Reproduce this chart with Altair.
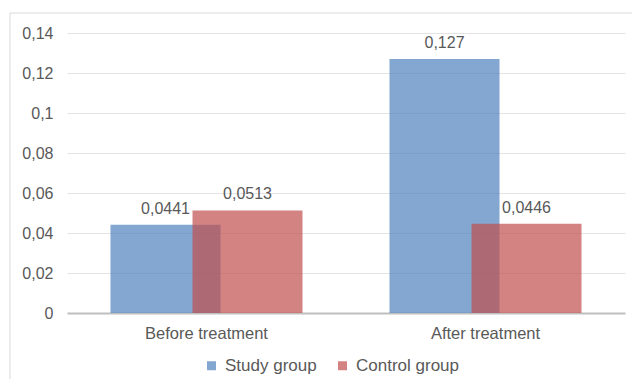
import altair as alt
import pandas as pd

categories = ["Before treatment", "After treatment"]
groups = ["Study group", "Control group"]
study = [0.0441, 0.127]
control = [0.0513, 0.0446]
y_ticks = [0, 0.02, 0.04, 0.06, 0.08, 0.1, 0.12, 0.14]
colors = ["#4F81BD", "#C0504D"]

rows = []
for c, s, k in zip(categories, study, control):
    rows.append({"cat": c, "group": groups[0], "value": s})
    rows.append({"cat": c, "group": groups[1], "value": k})
df = pd.DataFrame(rows)

FONT = "Liberation Sans"
TXT = "#595959"
BAR_W = 110
OFF = 41

x = alt.X(
    "cat:N", sort=categories,
    scale=alt.Scale(paddingInner=0, paddingOuter=0),
    axis=alt.Axis(title=None, labelAngle=0, ticks=False, domainColor="#bfbfbf",
                  domainWidth=2, labelFontSize=16.5, labelColor=TXT, labelPadding=12,
                  grid=False, labelFont=FONT),
)
y = alt.Y(
    "value:Q",
    scale=alt.Scale(domain=[0, 0.14], nice=False),
    axis=alt.Axis(title=None, values=y_ticks,
                  labelExpr="replace(toString(datum.value), '.', ',')",
                  domain=False, ticks=False, gridColor="#e4e4e4", gridWidth=1,
                  labelFontSize=16, labelColor=TXT, labelPadding=14, labelFont=FONT),
)
color = alt.Color(
    "group:N",
    scale=alt.Scale(domain=groups, range=colors),
    legend=alt.Legend(title=None, orient="none", direction="horizontal",
                      legendX=136, legendY=324, symbolType="square", symbolSize=81,
                      symbolOpacity=0.7, symbolStrokeWidth=0, labelFontSize=17,
                      labelColor=TXT, labelFont=FONT, columnPadding=17, labelOffset=5),
)

base = alt.Chart(df).transform_calculate(
    label="replace(toString(datum.value), '.', ',')"
)

study_bar = base.transform_filter(alt.datum.group == groups[0]).mark_bar(
    width=BAR_W, xOffset=-OFF, opacity=0.7
).encode(x=x, y=y, color=color)
control_bar = base.transform_filter(alt.datum.group == groups[1]).mark_bar(
    width=BAR_W, xOffset=OFF, opacity=0.7
).encode(x=x, y=y, color=color)

study_txt = base.transform_filter(alt.datum.group == groups[0]).mark_text(
    xOffset=-OFF, dy=-11, baseline="alphabetic", fontSize=16, color=TXT, font=FONT
).encode(x=x, y=y, text="label:N")
control_txt = base.transform_filter(alt.datum.group == groups[1]).mark_text(
    xOffset=OFF, dy=-11, baseline="alphabetic", fontSize=16, color=TXT, font=FONT
).encode(x=x, y=y, text="label:N")

frame = alt.Data(values=[{"k": 1}])
top_rule = alt.Chart(frame).mark_rule(color="#d9d9d9", strokeWidth=1).encode(
    x=alt.value(-57), x2=alt.value(620), y=alt.value(-20)
)
left_rule = alt.Chart(frame).mark_rule(color="#d9d9d9", strokeWidth=1).encode(
    x=alt.value(-57), y=alt.value(-20), y2=alt.value(400)
)

chart = alt.layer(
    top_rule, left_rule, study_bar, control_bar, study_txt, control_txt
).properties(
    width=558, height=280,
    autosize=alt.AutoSizeParams(type="none"),
    padding={"left": 59, "top": 25, "right": 7, "bottom": 66},
).configure(font=FONT).configure_view(stroke=None)

chart.save("out.html", embed_options={"renderer": "svg", "actions": False})
